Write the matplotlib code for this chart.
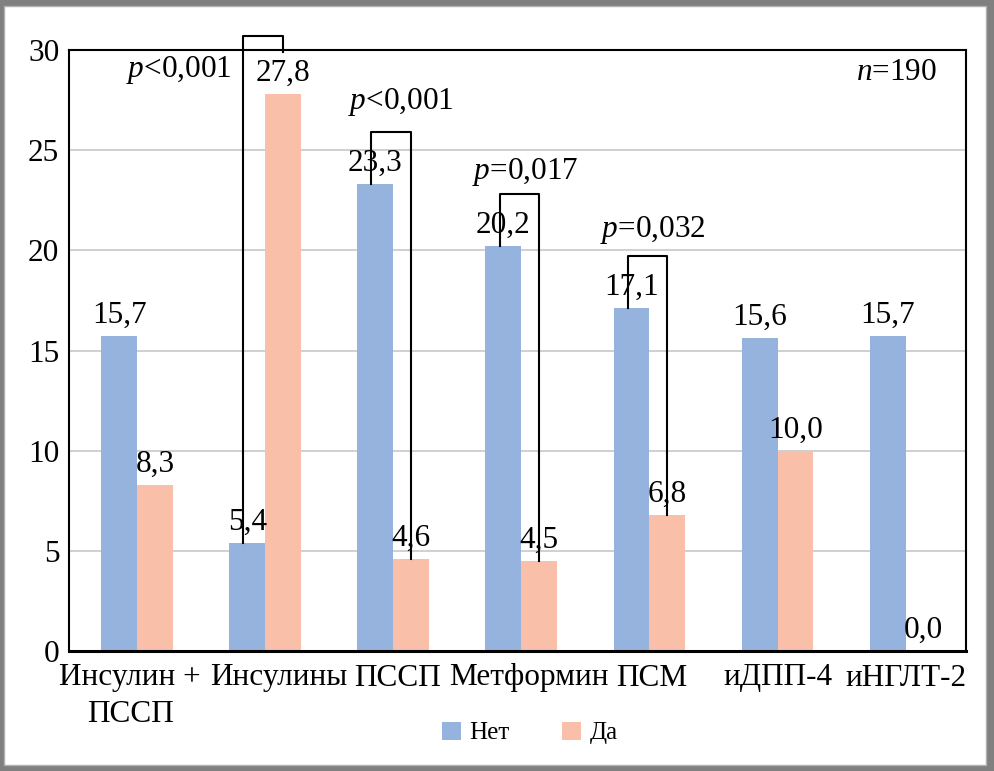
import matplotlib
matplotlib.use("Agg")
import matplotlib.pyplot as plt
import matplotlib.transforms as mtransforms
import numpy as np
from matplotlib.patches import Rectangle, Patch

plt.rcParams['font.family'] = ['Liberation Serif', 'DejaVu Serif']
plt.rcParams['mathtext.fontset'] = 'custom'
plt.rcParams['mathtext.rm'] = 'Liberation Serif'
plt.rcParams['mathtext.it'] = 'Liberation Serif:italic'

# data
categories = ['Инсулин +\nПССП', 'Инсулины', 'ПССП', 'Метформин', 'ПСМ', 'иДПП-4', 'иНГЛТ-2']
net = [15.7, 5.4, 23.3, 20.2, 17.1, 15.6, 15.7]
da = [8.3, 27.8, 4.6, 4.5, 6.8, 10.0, 0.0]

# significance brackets
br_idx = [1, 2, 3, 4]
br_top = [30.7, 25.9, 22.8, 19.7]
br_right_end = [29.9, None, None, None]
p_texts = [r'$p$<0,001', r'$p$<0,001', r'$p$=0,017', r'$p$=0,032']
p_pos = [(0.74, 29.0), (2.06, 27.4), (3.03, 23.9), (4.03, 21.0)]
p_ha = ['right', 'center', 'center', 'center']
label_shift_px = [-7, 14, 4, 8, 2, 0, 0]

c_net = '#95B3DC'
c_da = '#F9BFA8'

fig = plt.figure(figsize=(9.95, 7.71), dpi=100)
fig.patch.set_facecolor('#808080')
# white page inside grey frame
fig.patches.append(Rectangle((4/995, 6/771), 982/995, 759/771, transform=fig.transFigure,
                             facecolor='white', edgecolor='#b0b0b0', linewidth=1.0, zorder=-10))

ax = fig.add_axes([69/995, 120/771, 897/995, 601/771])
ax.set_facecolor('white')

x = np.arange(len(categories))
w = 0.28
ax.bar(x - w/2, net, w, color=c_net, zorder=2)
ax.bar(x + w/2, da, w, color=c_da, zorder=2)

fs = 22.5
for i in range(len(categories)):
    ax.annotate(f'{net[i]:.1f}'.replace('.', ','), (x[i] - w/2, net[i]), xytext=(0, 4.5),
                textcoords='offset points', ha='center', va='bottom', fontsize=fs, zorder=4)
    ax.annotate(f'{da[i]:.1f}'.replace('.', ','), (x[i] + w/2, da[i]), xytext=(0, 4.5),
                textcoords='offset points', ha='center', va='bottom', fontsize=fs, zorder=4)

for k, i in enumerate(br_idx):
    xl = x[i] - w/2 - 0.03
    xr = x[i] + w/2
    yr = br_right_end[k] if br_right_end[k] is not None else da[i]
    ax.plot([xl, xl, xr, xr], [net[i], br_top[k], br_top[k], yr], color='black',
            linewidth=1.5, clip_on=False, zorder=3)
    ax.text(p_pos[k][0], p_pos[k][1], p_texts[k], ha=p_ha[k], va='center', fontsize=fs, zorder=4)

ax.text(6.245, 28.9, r'$n$=190', ha='right', va='center', fontsize=fs)

ax.set_xlim(-0.531, 6.471)
ax.set_ylim(0, 30)
ax.set_yticks(range(0, 31, 5))
ax.yaxis.grid(True, color='#c8c8c8', linewidth=1.2, zorder=0)
ax.set_axisbelow(True)
ax.set_xticks(x)
ax.set_xticklabels(categories, fontsize=fs, linespacing=1.35)
ax.tick_params(axis='both', length=0, labelsize=fs)
ax.tick_params(axis='y', pad=7)
ax.tick_params(axis='x', pad=9)
for lab, dx in zip(ax.get_xticklabels(), label_shift_px):
    lab.set_transform(lab.get_transform() + mtransforms.ScaledTranslation(dx/100, 0, fig.dpi_scale_trans))
for s in ax.spines.values():
    s.set_color('black')
    s.set_linewidth(1.5)
ax.spines['bottom'].set_linewidth(2.2)

handles = [Patch(facecolor=c_net, label='Нет'), Patch(facecolor=c_da, label='Да')]
fig.legend(handles=handles, loc='center', bbox_to_anchor=(530/995, 38/771), ncol=2,
           frameon=False, fontsize=18, handlelength=0.76, handleheight=0.76,
           handletextpad=0.35, columnspacing=2.1)

fig.savefig('out.png', dpi=100, facecolor=fig.get_facecolor())
